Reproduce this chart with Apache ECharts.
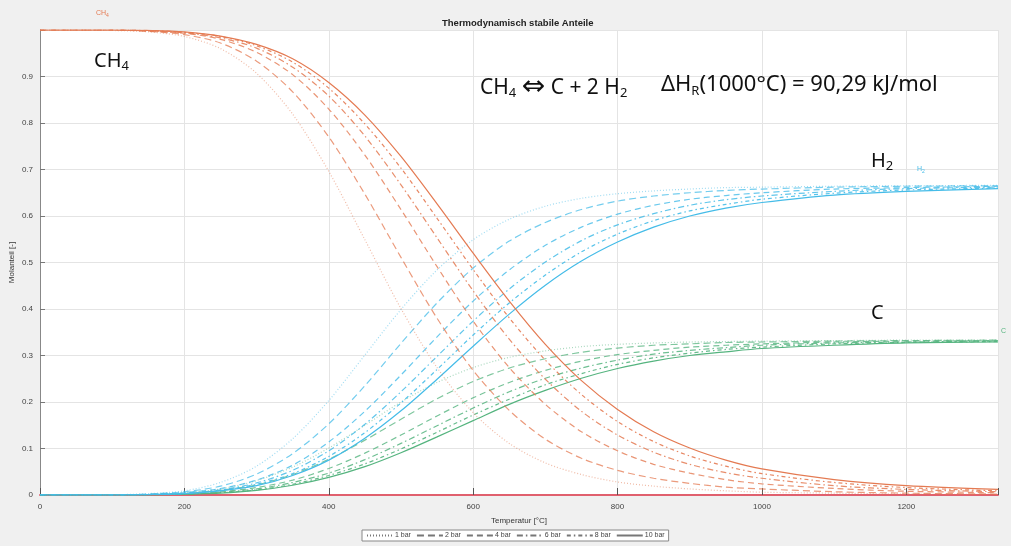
<!DOCTYPE html>
<html>
<head>
<meta charset="utf-8">
<script src="https://cdn.jsdelivr.net/npm/echarts@6/dist/echarts.min.js"></script>
<style>
html, body { margin: 0; padding: 0; background: #f0f0f0; }
#chart { width: 1011px; height: 546px; }
</style>
</head>
<body>
<div id="chart"></div>
<script>
// Temperatur [°C]
const temps = [0, 100, 150, 200, 250, 300, 350, 400, 450, 500, 550, 600, 650, 700, 750, 800, 850, 900, 950, 1000, 1100, 1200, 1327]
const pressures = ['1 bar', '2 bar', '4 bar', '6 bar', '8 bar', '10 bar']

// CH4
const ch4P1 = [1, 0.999, 0.996, 0.986, 0.960, 0.907, 0.819, 0.696, 0.549, 0.401, 0.274, 0.177, 0.111, 0.069, 0.044, 0.028, 0.019, 0.013, 0.009, 0.006, 0.004, 0.002, 0.001]
const ch4P2 = [1, 1, 0.997, 0.990, 0.972, 0.933, 0.867, 0.770, 0.647, 0.511, 0.380, 0.268, 0.182, 0.120, 0.079, 0.053, 0.036, 0.025, 0.017, 0.013, 0.007, 0.004, 0.002]
const ch4P4 = [1, 1, 0.998, 0.993, 0.980, 0.952, 0.904, 0.830, 0.731, 0.614, 0.491, 0.374, 0.274, 0.195, 0.136, 0.095, 0.066, 0.047, 0.033, 0.024, 0.014, 0.008, 0.005]
const ch4P6 = [1, 1, 0.998, 0.994, 0.983, 0.961, 0.920, 0.858, 0.772, 0.667, 0.553, 0.439, 0.335, 0.249, 0.180, 0.129, 0.092, 0.066, 0.048, 0.036, 0.020, 0.012, 0.007]
const ch4P8 = [1, 1, 0.999, 0.995, 0.986, 0.966, 0.931, 0.875, 0.798, 0.703, 0.595, 0.485, 0.381, 0.290, 0.216, 0.158, 0.115, 0.084, 0.062, 0.046, 0.027, 0.016, 0.009]
const ch4P10 = [1, 1, 0.999, 0.996, 0.987, 0.969, 0.938, 0.887, 0.817, 0.728, 0.626, 0.520, 0.417, 0.324, 0.246, 0.184, 0.136, 0.101, 0.075, 0.056, 0.033, 0.020, 0.012]

// H2
const h2P1 = [0, 0.0005, 0.003, 0.009, 0.027, 0.062, 0.121, 0.203, 0.301, 0.399, 0.484, 0.549, 0.593, 0.621, 0.638, 0.648, 0.654, 0.658, 0.661, 0.662, 0.664, 0.665, 0.666]
const h2P2 = [0, 0, 0.002, 0.007, 0.019, 0.045, 0.089, 0.153, 0.235, 0.326, 0.413, 0.488, 0.546, 0.586, 0.614, 0.632, 0.643, 0.650, 0.655, 0.658, 0.662, 0.664, 0.665]
const h2P4 = [0, 0, 0.001, 0.005, 0.014, 0.032, 0.064, 0.114, 0.180, 0.258, 0.340, 0.417, 0.484, 0.537, 0.576, 0.604, 0.623, 0.636, 0.644, 0.650, 0.658, 0.661, 0.664]
const h2P6 = [0, 0, 0.001, 0.004, 0.011, 0.026, 0.053, 0.095, 0.152, 0.222, 0.298, 0.374, 0.443, 0.501, 0.547, 0.581, 0.605, 0.623, 0.635, 0.643, 0.653, 0.659, 0.662]
const h2P8 = [0, 0, 0.001, 0.003, 0.010, 0.023, 0.046, 0.083, 0.134, 0.198, 0.270, 0.344, 0.413, 0.473, 0.523, 0.561, 0.590, 0.611, 0.625, 0.636, 0.649, 0.656, 0.660]
const h2P10 = [0, 0, 0.001, 0.003, 0.009, 0.020, 0.042, 0.075, 0.122, 0.181, 0.249, 0.320, 0.389, 0.451, 0.503, 0.544, 0.576, 0.600, 0.617, 0.629, 0.645, 0.653, 0.659]

// C
const cP1 = [0, 0, 0.001, 0.005, 0.013, 0.031, 0.060, 0.101, 0.150, 0.200, 0.242, 0.274, 0.296, 0.310, 0.319, 0.324, 0.327, 0.329, 0.330, 0.331, 0.332, 0.333, 0.333]
const cP2 = [0, 0, 0.001, 0.003, 0.010, 0.022, 0.044, 0.077, 0.118, 0.163, 0.207, 0.244, 0.273, 0.293, 0.307, 0.316, 0.322, 0.325, 0.328, 0.329, 0.331, 0.332, 0.333]
const cP4 = [0, 0, 0.001, 0.002, 0.007, 0.016, 0.032, 0.057, 0.090, 0.129, 0.170, 0.209, 0.242, 0.268, 0.288, 0.302, 0.311, 0.318, 0.322, 0.325, 0.329, 0.331, 0.332]
const cP6 = [0, 0, 0.001, 0.002, 0.006, 0.013, 0.027, 0.047, 0.076, 0.111, 0.149, 0.187, 0.222, 0.251, 0.273, 0.290, 0.303, 0.311, 0.317, 0.322, 0.327, 0.329, 0.331]
const cP8 = [0, 0, 0, 0.002, 0.005, 0.011, 0.023, 0.042, 0.067, 0.099, 0.135, 0.172, 0.206, 0.237, 0.261, 0.281, 0.295, 0.305, 0.313, 0.318, 0.325, 0.328, 0.330]
const cP10 = [0, 0, 0, 0.002, 0.004, 0.010, 0.021, 0.038, 0.061, 0.091, 0.125, 0.160, 0.195, 0.225, 0.251, 0.272, 0.288, 0.300, 0.308, 0.315, 0.322, 0.327, 0.329]

const xTicks = [0, 200, 400, 600, 800, 1000, 1200]

const chart = echarts.init(document.getElementById('chart'))

const dashTypes = [[1, 2], [7, 4], [6, 4], [6, 3, 1.5, 3], [4, 3, 1.5, 3], 'solid']
const opacities = [0.5, 0.75, 0.8, 0.85, 0.9, 1]

function makeSeries(species, color, list) {
	return list.map((vals, i) => ({
		name: species + ' ' + pressures[i],
		type: 'line',
		symbol: 'none',
		smooth: 0.3,
		silent: true,
		lineStyle: { color: color, width: 1.2, type: dashTypes[i], opacity: opacities[i] },
		data: temps.map((t, k) => [t, vals[k]]),
		z: 3,
	}))
}

var series = []
series = series.concat(makeSeries('C', '#55b47f', [cP1, cP2, cP4, cP6, cP8, cP10]))
series = series.concat(makeSeries('H2', '#45bce8', [h2P1, h2P2, h2P4, h2P6, h2P8, h2P10]))
series = series.concat(makeSeries('CH4', '#e47a52', [ch4P1, ch4P2, ch4P4, ch4P6, ch4P8, ch4P10]))
// legend entries only (grey)
pressures.forEach((p, i) => {
	series.push({
		name: p,
		type: 'line',
		symbol: 'none',
		data: [],
		lineStyle: { color: '#777', width: 1, type: dashTypes[i] },
		itemStyle: { color: '#777' },
	})
})

const big = 'Noto Sans'
const small = 'Liberation Sans'
const sub = (size, pad) => ({ fontSize: size, fill: '#111', fontFamily: big, padding: [pad, 0, 0, 0] })

let options = {
	backgroundColor: '#f0f0f0',
	animation: false,
	grid: {
		left: 40,
		right: 13,
		top: 30,
		bottom: 51,
		show: true,
		backgroundColor: '#ffffff',
		borderWidth: 0,
		containLabel: false,
		outerBoundsMode: 'none',
	},
	legend: {
		data: pressures,
		left: 362,
		top: 530,
		itemWidth: 26,
		itemHeight: 6,
		itemGap: 5,
		padding: [2, 4],
		backgroundColor: '#ffffff',
		borderColor: '#888',
		borderWidth: 1,
		borderRadius: 0,
		selectedMode: false,
		itemStyle: { opacity: 0 },
		textStyle: { fontSize: 7, color: '#444', fontFamily: small, padding: [0, 0, 0, -3] },
	},
	xAxis: {
		type: 'value',
		min: 0,
		max: 1327,
		interval: 200,
		name: 'Temperatur [°C]',
		nameLocation: 'middle',
		nameGap: 22,
		nameMoveOverlap: false,
		nameTextStyle: { fontSize: 8, color: '#333', fontFamily: small },
		axisLine: { show: true, lineStyle: { color: '#e0606e', width: 2 } },
		axisTick: { show: true, inside: true, length: 7, lineStyle: { color: '#555' } },
		axisLabel: {
			fontSize: 8,
			color: '#444',
			fontFamily: small,
			margin: 8,
			formatter: (v) => (xTicks.indexOf(v) >= 0 ? String(v) : ''),
		},
		splitLine: { show: true, lineStyle: { color: '#e4e4e4', width: 1 } },
	},
	yAxis: {
		type: 'value',
		min: 0,
		max: 1,
		interval: 0.1,
		name: 'Molanteil [-]',
		nameLocation: 'middle',
		nameGap: 24,
		nameMoveOverlap: false,
		nameTextStyle: { fontSize: 8, color: '#333', fontFamily: small },
		axisLine: { show: true, lineStyle: { color: '#888', width: 1 } },
		axisTick: { show: true, inside: true, length: 5, lineStyle: { color: '#777' } },
		axisLabel: {
			fontSize: 8,
			color: '#444',
			fontFamily: small,
			margin: 7,
			formatter: (v) => (v >= 0.999 ? '' : (v === 0 ? '0' : v.toFixed(1))),
		},
		splitLine: { show: true, lineStyle: { color: '#e4e4e4', width: 1 } },
	},
	graphic: [
		{
			type: 'text', left: 442, top: 18, z: 100,
			style: { text: 'Thermodynamisch stabile Anteile', font: 'bold 9.5px "Liberation Sans"', fill: '#222' },
		},
		{
			type: 'text', left: 96, top: 10, z: 100,
			style: { text: '{a|CH}{s|4}', rich: { a: { fontSize: 7, fill: '#e47a52', fontFamily: small }, s: { fontSize: 5, fill: '#e47a52', fontFamily: small, padding: [4, 0, 0, 0] } } },
		},
		{
			type: 'text', left: 917, top: 166, z: 100,
			style: { text: '{a|H}{s|2}', rich: { a: { fontSize: 7, fill: '#45bce8', fontFamily: small }, s: { fontSize: 5, fill: '#45bce8', fontFamily: small, padding: [4, 0, 0, 0] } } },
		},
		{
			type: 'text', left: 1001, top: 328, z: 100,
			style: { text: 'C', font: '7px "Liberation Sans"', fill: '#55b47f' },
		},
		{
			type: 'text', left: 94, top: 51, z: 100,
			style: { text: '{a|CH}{s|4}', rich: { a: { fontSize: 20, fill: '#111', fontFamily: big }, s: sub(13, 11) } },
		},
		{
			type: 'text', left: 480, top: 74, z: 100,
			style: {
				text: '{a|CH}{s|4}{a| }{r|\u21d4}{a| C + 2 H}{s|2}',
				rich: { a: { fontSize: 21, fill: '#111', fontFamily: big }, s: sub(13, 11), r: { fontSize: 28, fill: '#111', fontFamily: 'DejaVu Sans' } },
			},
		},
		{
			type: 'text', left: 661, top: 74, z: 100,
			style: {
				text: '{a|\u0394H}{s|R}{a|(1000°C) = 90,29 kJ/mol}',
				rich: { a: { fontSize: 22, fill: '#111', fontFamily: big }, s: sub(13, 12) },
			},
		},
		{
			type: 'text', left: 871, top: 151, z: 100,
			style: { text: '{a|H}{s|2}', rich: { a: { fontSize: 20, fill: '#111', fontFamily: big }, s: sub(13, 11) } },
		},
		{
			type: 'text', left: 871, top: 303, z: 100,
			style: { text: 'C', font: '20px "Noto Sans"', fill: '#111' },
		},
	],
	series: series,
}
chart.setOption(options, true)
</script>
</body>
</html>
